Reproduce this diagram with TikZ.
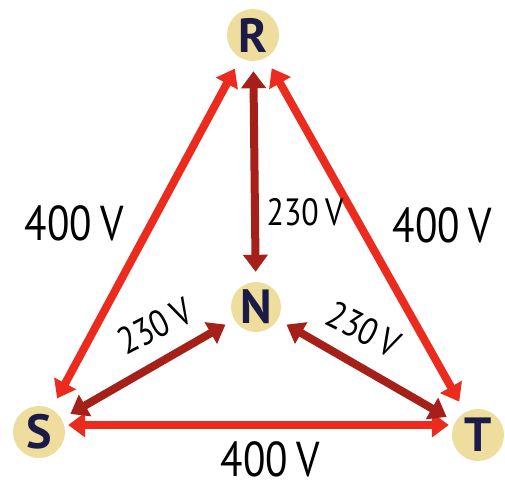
\documentclass[tikz,border=0pt]{standalone}
\usepackage{fontspec}
\setmainfont{PT Sans}
\newfontfamily\labfont[FakeStretch=0.84]{PT Sans}
\usetikzlibrary{arrows.meta}
\definecolor{redA}{HTML}{EC2B1F}
\definecolor{redB}{HTML}{A52019}
\definecolor{tanfill}{HTML}{EEDD9C}
\definecolor{navy}{HTML}{1B1B48}
\begin{document}
\begin{tikzpicture}[x=1pt,y=-1pt,
  phase/.style={circle,fill=tanfill,minimum size=52pt,inner sep=0pt,
    text=navy,font=\fontsize{48}{48}\selectfont\bfseries},
  arr/.style={line width=8pt,{Triangle[length=17pt,width=24pt]}-{Triangle[length=17pt,width=24pt]},shorten <=#1,shorten >=#1},
  big/.style={arr=12pt,draw=redA},
  small/.style={arr=10pt,draw=redB},
  lab/.style={font=\labfont\fontsize{49}{49}\selectfont,text=black,inner sep=0pt},
  slab/.style={font=\labfont\fontsize{38}{38}\selectfont,text=black,inner sep=0pt}]
\useasboundingbox (0,0) rectangle (505,490);
\node[phase] (R) at (253,35) {R};
\node[phase,minimum size=50pt] (N) at (256,307) {N};
\node[phase] (S) at (39,432) {S};
\node[phase] (T) at (478,435) {T};
\draw[big] (R) -- (S);
\draw[big] (R) -- (T);
\draw[arr=3pt,draw=redA] ([yshift=7pt]S.east) -- ([yshift=10pt]T.west);
\draw[small] (R) -- (N);
\draw[small] (N) -- (S);
\draw[small] (N) -- (T);
\node[lab] (l1) at (74,223) {400\,V};
\node[lab] (l2) at (442,225) {400\,V};
\node[lab] (l3) at (270,459) {400\,V};
\node[slab] (l4) at (305,212) {230\,V};
\node[slab,rotate=27] (l5) at (155,326) {230\,V};
\node[slab,rotate=-27] (l6) at (364,329) {230\,V};
\end{tikzpicture}
\end{document}
